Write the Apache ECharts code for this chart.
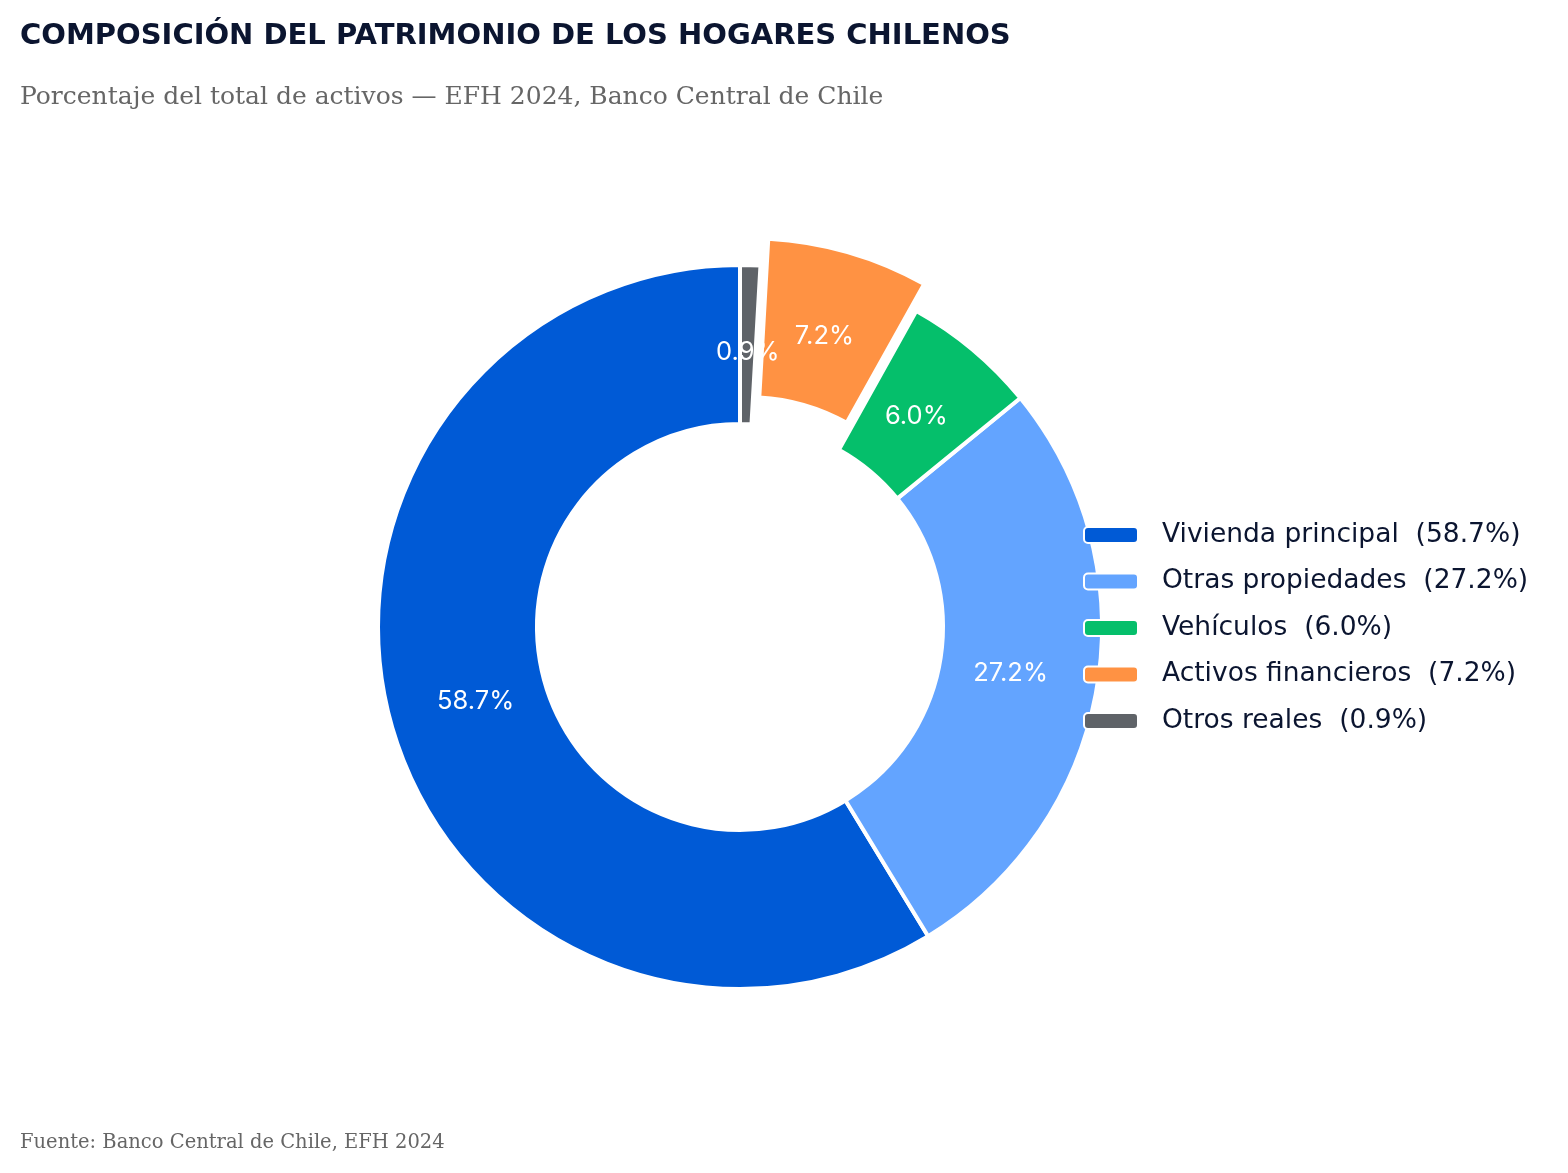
<!DOCTYPE html>
<html>
<head>
<meta charset="utf-8">
<title>Composición del patrimonio</title>
<script src="https://cdn.jsdelivr.net/npm/echarts@6/dist/echarts.min.js"></script>
<style>
    html, body { margin: 0; padding: 0; background: #ffffff; }
    #chart { width: 1568px; height: 1173px; }
</style>
</head>
<body>
<div id="chart"></div>
<script>
// datos EFH 2024
var categories = ['Vivienda principal', 'Otras propiedades', 'Vehículos', 'Activos financieros', 'Otros reales'];
var shares = [58.7, 27.2, 6.0, 7.2, 0.9];
var colors = ['#005AD6', '#63A4FF', '#05BF6B', '#FF9243', '#5F6368'];
var highlighted = 'Activos financieros';

var pieData = [];
var labelData = [];
for (var i = 0; i < categories.length; i++) {
    pieData.push({
        name: categories[i],
        value: shares[i],
        selected: categories[i] == highlighted,
        itemStyle: { color: colors[i] }
    });
    labelData.push({
        name: categories[i],
        value: shares[i],
        selected: categories[i] == highlighted
    });
}

var myChart = echarts.init(document.getElementById('chart'));
var option = {
    backgroundColor: '#ffffff',
    animation: false,
    title: [{
        text: 'COMPOSICIÓN DEL PATRIMONIO DE LOS HOGARES CHILENOS',
        left: 20,
        top: 22,
        padding: 0,
        textStyle: { fontFamily: 'DejaVu Sans', fontWeight: 'bold', fontSize: 29, color: '#0B1530' }
    }, {
        text: 'Porcentaje del total de activos — EFH 2024, Banco Central de Chile',
        left: 20,
        top: 85,
        padding: 0,
        textStyle: { fontFamily: 'DejaVu Serif', fontWeight: 'normal', fontSize: 25, color: '#666666' }
    }, {
        text: 'Fuente: Banco Central de Chile, EFH 2024',
        left: 20,
        top: 1133,
        padding: 0,
        textStyle: { fontFamily: 'DejaVu Serif', fontWeight: 'normal', fontSize: 19.5, color: '#666666' }
    }],
    legend: {
        orient: 'vertical',
        left: 1078,
        top: 515,
        itemWidth: 54,
        itemHeight: 16,
        itemGap: 16.5,
        selectedMode: false,
        data: categories,
        formatter: function(name) {
            var idx = categories.indexOf(name);
            return name + '  (' + shares[idx].toFixed(1) + '%)';
        },
        textStyle: { fontFamily: 'DejaVu Sans', fontSize: 26.5, color: '#0B1530', lineHeight: 30, padding: [0, 0, 0, 19] }
    },
    series: [{
        type: 'pie',
        center: [740, 627],
        radius: [203, 362],
        startAngle: 90,
        clockwise: false,
        selectedMode: 'single',
        selectedOffset: 28,
        avoidLabelOverlap: false,
        itemStyle: { borderColor: '#ffffff', borderWidth: 4 },
        label: { show: false },
        labelLine: { show: false },
        emphasis: { disabled: true },
        data: pieData
    }, {
        // serie solo para las etiquetas, a 0.75 del radio
        type: 'pie',
        center: [740, 627],
        radius: [203, 340],
        startAngle: 90,
        clockwise: false,
        selectedMode: 'single',
        selectedOffset: 28,
        silent: true,
        avoidLabelOverlap: false,
        itemStyle: { color: 'rgba(0,0,0,0)', borderWidth: 0 },
        label: {
            show: true,
            position: 'inside',
            color: '#ffffff',
            fontFamily: 'Inter',
            fontSize: 25.5,
            formatter: function(p) { return p.value.toFixed(1) + '%'; }
        },
        labelLine: { show: false },
        emphasis: { disabled: true },
        data: labelData
    }]
};
myChart.setOption(option);
</script>
</body>
</html>
